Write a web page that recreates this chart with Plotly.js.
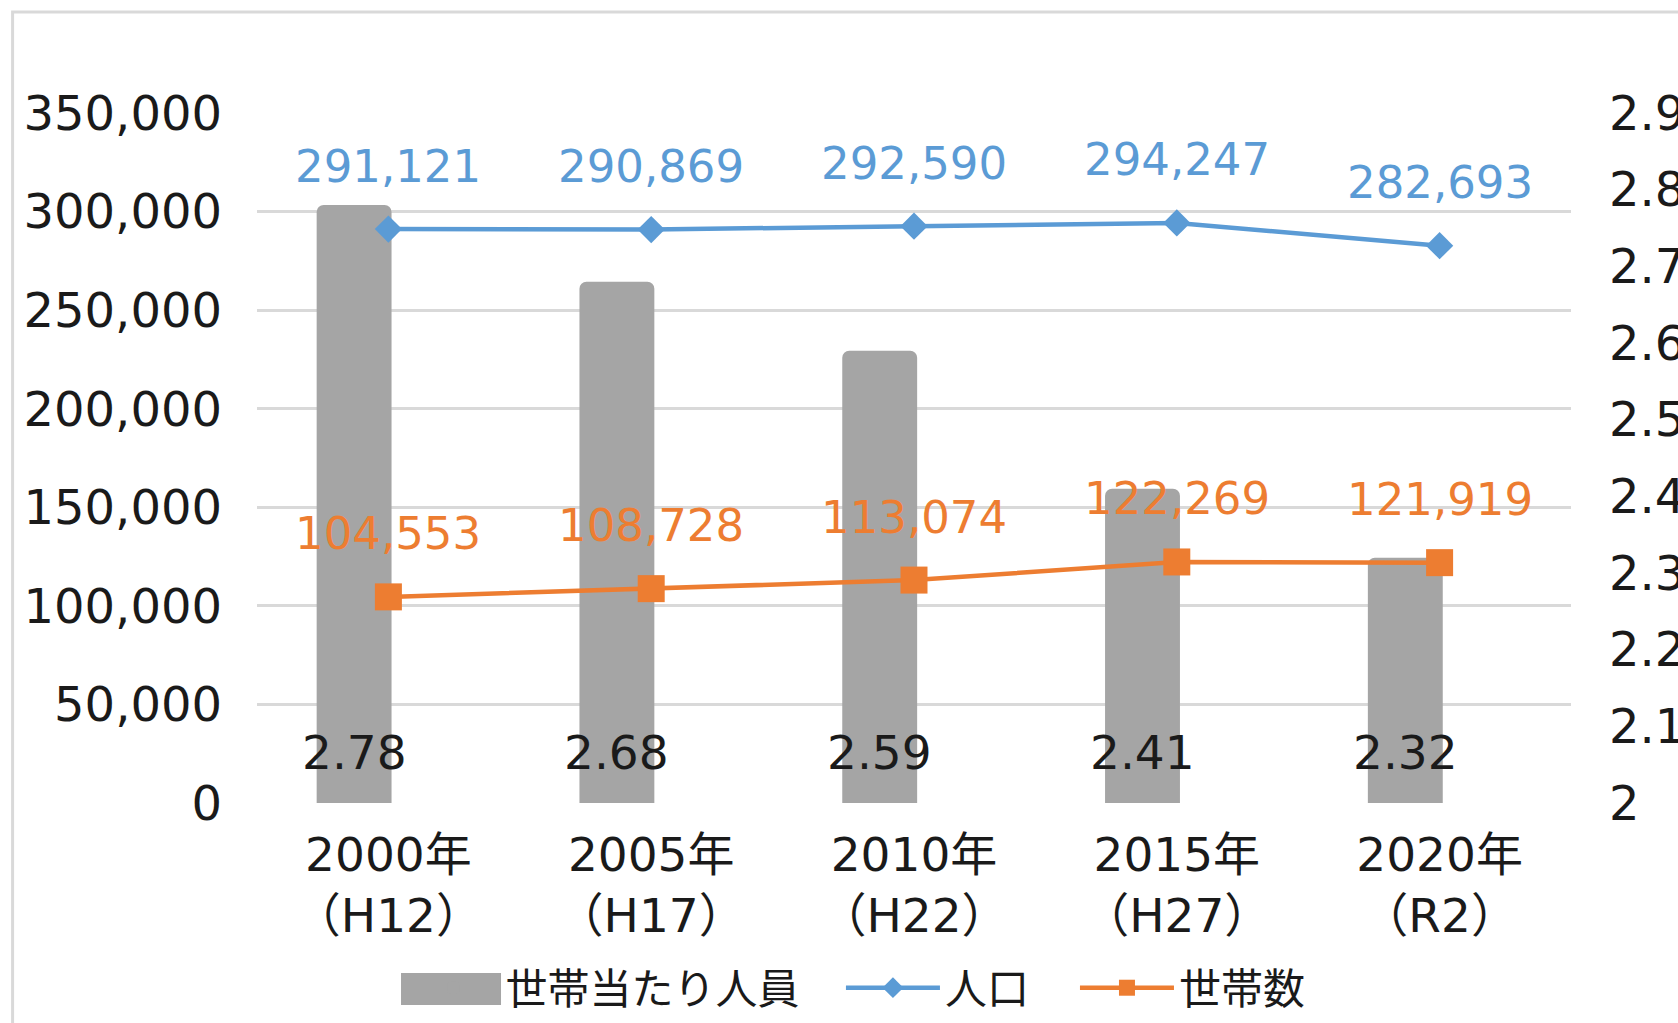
<!DOCTYPE html>
<html>
<head>
<meta charset="utf-8">
<script src="https://cdn.plot.ly/plotly-3.0.1.min.js"></script>
<style>html,body{margin:0;padding:0;background:#fff;}#chart{width:1678px;height:1023px;}</style>
</head>
<body>
<div id="chart"></div>
<script>
// ---- data ----
var years = ['2000年', '2005年', '2010年', '2015年', '2020年'];
var eras = ['（H12）', '（H17）', '（H22）', '（H27）', '（R2）'];
var perHousehold = [2.78, 2.68, 2.59, 2.41, 2.32];        // 世帯当たり人員 (right axis)
var population = [291121, 290869, 292590, 294247, 282693]; // 人口 (left axis)
var households = [104553, 108728, 113074, 122269, 121919]; // 世帯数 (left axis)
var seriesNames = ['世帯当たり人員', '人口', '世帯数'];

var categories = years.map(function (y, i) { return y + '<br>' + eras[i]; });

var FONT = 'DejaVu Sans, "Noto Sans CJK JP", sans-serif';
var BLUE = '#5B9BD5', ORANGE = '#ED7D31', GRAY = '#A5A5A5', TXT = '#1a1a1a';

var M = { l: 257, r: 107, t: 113, b: 220 };
var plotW = 1678 - M.l - M.r;
var catW = plotW / categories.length;
var barOffset = -0.273, barWidth = 0.285;

var traces = [
  {
    type: 'bar', name: seriesNames[0], x: categories, y: perHousehold,
    xaxis: 'x', yaxis: 'y', legend: 'legend',
    offset: barOffset, width: barWidth,
    marker: { color: GRAY, cornerradius: 7 },
    hoverinfo: 'skip'
  },
  {
    type: 'scatter', mode: 'lines+markers', name: seriesNames[1], x: categories, y: population,
    xaxis: 'x', yaxis: 'y2', legend: 'legend2',
    line: { color: BLUE, width: 4.5 },
    marker: { symbol: 'diamond', size: 21, color: BLUE },
    hoverinfo: 'skip'
  },
  {
    type: 'scatter', mode: 'lines+markers', name: seriesNames[2], x: categories, y: households,
    xaxis: 'x', yaxis: 'y2', legend: 'legend3',
    line: { color: ORANGE, width: 4.5 },
    marker: { symbol: 'square', size: 27, color: ORANGE },
    hoverinfo: 'skip'
  }
];

var annotations = [];
population.forEach(function (v, i) {
  annotations.push({ x: categories[i], y: v, xref: 'x', yref: 'y2', text: v.toLocaleString('en-US'),
    showarrow: false, yshift: 63, font: { family: FONT, size: 45, color: BLUE } });
});
households.forEach(function (v, i) {
  annotations.push({ x: categories[i], y: v, xref: 'x', yref: 'y2', text: v.toLocaleString('en-US'),
    showarrow: false, yshift: 63, font: { family: FONT, size: 45, color: ORANGE } });
});
var yMin = 2, yMax = 2.9;
perHousehold.forEach(function (v, i) {
  annotations.push({ x: categories[i], y: yMin, xref: 'x', yref: 'y', text: v.toFixed(2),
    showarrow: false, yanchor: 'middle', yshift: 51, xshift: (barOffset + barWidth / 2) * catW,
    font: { family: FONT, size: 47, color: TXT } });
});

function legendAt(x) {
  return {
    orientation: 'h', x: x, xanchor: 'left', y: -0.268, yanchor: 'middle',
    font: { family: FONT, size: 42, color: TXT }, itemwidth: 94,
    itemclick: false, itemdoubleclick: false, bgcolor: 'rgba(0,0,0,0)'
  };
}

var layout = {
  width: 1678, height: 1023,
  margin: { l: M.l, r: M.r, t: M.t, b: M.b, autoexpand: false },
  paper_bgcolor: '#fff', plot_bgcolor: '#fff',
  font: { family: FONT, size: 47, color: TXT },
  showlegend: true,
  legend: legendAt(0.11),
  legend2: legendAt(0.4444),
  legend3: legendAt(0.6225),
  xaxis: {
    type: 'category', showgrid: false, zeroline: false, showline: false, ticks: '',
    ticklabelstandoff: 20, automargin: false, tickfont: { family: FONT, size: 47, color: TXT }
  },
  yaxis: {
    side: 'right', range: [yMin, yMax], dtick: 0.1, tick0: 2, showgrid: false, zeroline: false,
    showline: false, ticks: '', ticklabelstandoff: 37, automargin: false,
    tickfont: { family: FONT, size: 48, color: TXT }
  },
  yaxis2: {
    overlaying: 'y', side: 'left', range: [0, 350000], dtick: 50000, tickformat: ',d',
    showgrid: true, gridcolor: '#D9D9D9', gridwidth: 3, zeroline: false, showline: false, ticks: '',
    ticklabelstandoff: 34, automargin: false, tickfont: { family: FONT, size: 48, color: TXT }
  },
  annotations: annotations,
  shapes: [
    { type: 'rect', xref: 'paper', yref: 'paper', x0: -0.186, x1: 1.3, y0: -0.6, y1: 1.1464,
      line: { color: '#D9D9D9', width: 3 }, fillcolor: 'rgba(0,0,0,0)', layer: 'below' },
    // wide legend swatch for the bar series
    { type: 'rect', xref: 'paper', yref: 'paper', x0: 0.1096, x1: 0.1857, y0: -0.2928, y1: -0.2464,
      line: { width: 0 }, fillcolor: GRAY, layer: 'above' }
  ],
  hovermode: false
};

Plotly.newPlot('chart', traces, layout, { staticPlot: true, displayModeBar: false });
</script>
</body>
</html>
